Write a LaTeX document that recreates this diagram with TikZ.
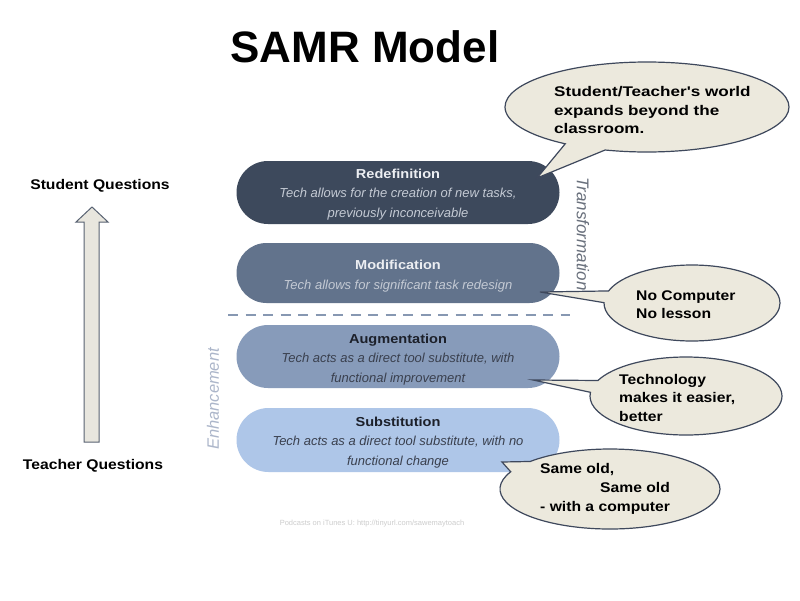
\documentclass[tikz,border=0pt]{standalone}
\usepackage{fontspec}
\setmainfont{Liberation Sans}
\newfontfamily\widefont{Liberation Sans}[FakeStretch=1.12]
\newfontfamily\widerfont{Liberation Sans}[FakeStretch=1.22]
\usetikzlibrary{shapes.callouts,shapes.misc}
\definecolor{redefc}{RGB}{61,73,92}
\definecolor{modc}{RGB}{98,115,140}
\definecolor{augc}{RGB}{135,155,186}
\definecolor{subc}{RGB}{174,198,232}
\definecolor{lighttitle}{RGB}{236,238,242}
\definecolor{lightdesc}{RGB}{196,202,212}
\definecolor{darktitle}{RGB}{28,32,42}
\definecolor{darkdesc}{RGB}{58,64,78}
\definecolor{dashc}{RGB}{135,152,178}
\definecolor{transc}{RGB}{105,112,124}
\definecolor{enhc}{RGB}{172,182,202}
\definecolor{bubblefill}{RGB}{236,233,221}
\definecolor{bubbleline}{RGB}{62,72,92}
\definecolor{arrowfill}{RGB}{232,230,222}
\definecolor{arrowline}{RGB}{88,98,114}
\definecolor{footc}{RGB}{205,205,205}
\begin{document}
\begin{tikzpicture}[x=1pt,y=-1pt,
  pill/.style={rounded rectangle, minimum width=323pt, inner sep=0pt},
  pilltext/.style={align=center, inner sep=0pt, font=\fontsize{13}{19.5}\selectfont},
  bubble/.style={ellipse callout, draw=bubbleline, line width=1.2pt, fill=bubblefill,
    inner sep=0pt, callout pointer arc=18},
  bubbletext/.style={anchor=west, align=left, inner sep=0pt, text=black},
  sidelabel/.style={font=\widefont\bfseries\fontsize{14}{17}\selectfont, text=black, inner sep=0pt}]
\useasboundingbox[fill=white] (0,0) rectangle (800,600);

% title
\node[font=\bfseries\fontsize{44}{50}\selectfont, inner sep=0pt] (title) at (365,47) {SAMR Model};

% pills
\node[pill, fill=redefc, minimum height=63pt] (redef) at (398,192.5) {};
\node[pill, fill=modc, minimum height=60pt] (modif) at (398,273) {};
\node[pill, fill=augc, minimum height=63pt] (augm) at (398,356.5) {};
\node[pill, fill=subc, minimum height=64pt] (subs) at (398,440) {};

\node[pilltext] (redefT) at (398,194.5)
  {\textcolor{lighttitle}{\widefont\bfseries Redefinition}\\
   \textcolor{lightdesc}{\itshape Tech allows for the creation of new tasks,}\\
   \textcolor{lightdesc}{\itshape previously inconceivable}};
\node[pilltext] (modifT) at (398,276)
  {\textcolor{lighttitle}{\widefont\bfseries Modification}\\
   \textcolor{lightdesc}{\itshape Tech allows for significant task redesign}};
\node[pilltext] (augmT) at (398,359.5)
  {\textcolor{darktitle}{\widefont\bfseries Augmentation}\\
   \textcolor{darkdesc}{\itshape Tech acts as a direct tool substitute, with}\\
   \textcolor{darkdesc}{\itshape functional improvement}};
\node[pilltext] (subsT) at (398,442.5)
  {\textcolor{darktitle}{\widefont\bfseries Substitution}\\
   \textcolor{darkdesc}{\itshape Tech acts as a direct tool substitute, with no}\\
   \textcolor{darkdesc}{\itshape functional change}};

% dashed divider
\coordinate (dashL) at (228,315);
\coordinate (dashR) at (570,315);
\draw[dashc, line width=2.6pt, dash pattern=on 10pt off 7.5pt] (dashL) -- (dashR);

% side labels
\node[rotate=-90, font=\itshape\fontsize{17}{19}\selectfont, text=transc, inner sep=0pt] (trans) at (583,234) {Transformation};
\node[rotate=90, font=\itshape\fontsize{16.5}{18}\selectfont, text=enhc, inner sep=0pt] (enh) at (213,399) {Enhancement};

% left arrow
\draw[arrowline, fill=arrowfill, line width=1pt]
  (84,442) -- (84,222) -- (76,222) -- (92,207) -- (108,222) -- (99,222) -- (99,442) -- cycle;
\node[sidelabel] (sq) at (100,186) {Student Questions};
\node[sidelabel] (tq) at (93,466) {Teacher Questions};

% callout pointers
\coordinate (p1) at (537,178);
\coordinate (p2) at (540,292);
\coordinate (p3) at (533,380);
\coordinate (p4) at (502,462);

% callouts
\node[bubble, minimum width=284pt, minimum height=90pt, callout absolute pointer={(p1)}] (c1) at (647,107) {};
\node[bubble, minimum width=176pt, minimum height=76pt, callout absolute pointer={(p2)}] (c2) at (692,303) {};
\node[bubble, minimum width=192pt, minimum height=78pt, callout absolute pointer={(p3)}] (c3) at (686,396) {};
\node[bubble, minimum width=220pt, minimum height=80pt, callout absolute pointer={(p4)}] (c4) at (610,489) {};

\node[bubbletext, font=\widerfont\bfseries\fontsize{14}{18.5}\selectfont] (t1) at (554,110)
  {Student/Teacher's world\\expands beyond the\\classroom.};
\node[bubbletext, font=\widefont\bfseries\fontsize{14}{18}\selectfont] (t2) at (636,305)
  {No Computer\\No lesson};
\node[bubbletext, font=\widefont\bfseries\fontsize{14}{18.5}\selectfont] (t3) at (619,397.5)
  {Technology\\makes it easier,\\better};
\node[bubbletext, font=\widefont\bfseries\fontsize{14}{19}\selectfont] (t4) at (540,489)
  {Same old,\\\hspace*{60pt}Same old\\- with a computer};

% footer
\node[font=\fontsize{7.5}{9}\selectfont, text=footc, inner sep=0pt] (foot) at (372,524)
  {Podcasts on iTunes U: http://tinyurl.com/sawemaytoach};
\end{tikzpicture}
\end{document}
